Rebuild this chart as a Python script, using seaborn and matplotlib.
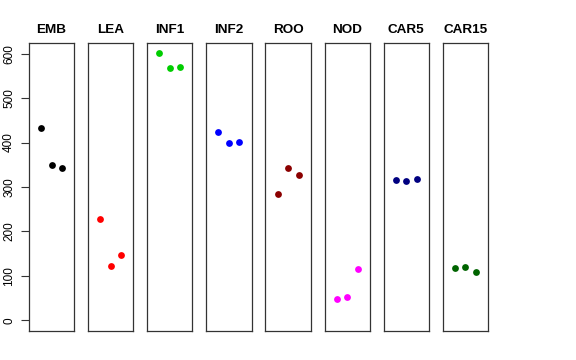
"""Per-tissue strip panels, three replicates each"""
import pandas as pd
import matplotlib
matplotlib.use('Agg')
import matplotlib.pyplot as plt
import seaborn as sns

# tissues and their three replicate values
tissues = ['EMB', 'LEA', 'INF1', 'INF2', 'ROO', 'NOD', 'CAR5', 'CAR15']
emb = [433, 349, 343]
lea = [228, 123, 147]
inf1 = [601, 567, 571]
inf2 = [424, 398, 402]
roo = [284, 342, 327]
nod = [47, 53, 116]
car5 = [316, 314, 318]
car15 = [118, 119, 108]
colors = ['black', '#FF0000', '#00CD00', '#0000FF', '#8B0000', '#FF00FF', '#000080', '#006400']
y_ticks = [0, 100, 200, 300, 400, 500, 600]

series = [emb, lea, inf1, inf2, roo, nod, car5, car15]
df = pd.DataFrame({
    'tissue': [t for t, vals in zip(tissues, series) for _ in vals],
    'rep': [i + 1 for vals in series for i in range(len(vals))],
    'value': [v for vals in series for v in vals],
})

sns.set_style('white')
plt.rcParams['font.family'] = ['Liberation Sans', 'DejaVu Sans']
plt.rcParams['text.color'] = 'black'
plt.rcParams['ytick.labelcolor'] = 'black'

fig, axes = plt.subplots(1, len(tissues), sharey=True, figsize=(5.76, 3.6), dpi=100)
fig.subplots_adjust(left=29 / 576, right=488 / 576, bottom=1 - 331 / 360, top=1 - 43 / 360, wspace=0.31)

for ax, tissue, col in zip(axes, tissues, colors):
    sub = df[df['tissue'] == tissue]
    sns.scatterplot(data=sub, x='rep', y='value', color=col, s=24, linewidth=0, ax=ax, legend=False)
    ax.set_xlim(-0.16, 4.16)
    ax.set_ylim(-24, 624)
    ax.set_title(tissue, fontsize=9.7, fontweight='bold', pad=7, color='black')
    ax.set_xlabel('')
    ax.set_ylabel('')
    ax.set_xticks([])
    for sp in ax.spines.values():
        sp.set_visible(True)
        sp.set_color('#333333')
        sp.set_linewidth(0.9)
    if ax is not axes[0]:
        ax.tick_params(axis='y', left=False, labelleft=False)

axes[0].set_yticks(y_ticks)
axes[0].set_yticklabels([str(t) for t in y_ticks], rotation=90, va='center', fontsize=8.5, color='black')
axes[0].tick_params(axis='y', left=True, length=5.5, width=0.8, color='#333333', pad=4.5)

plt.savefig('out.png', dpi=100)
plt.close()
